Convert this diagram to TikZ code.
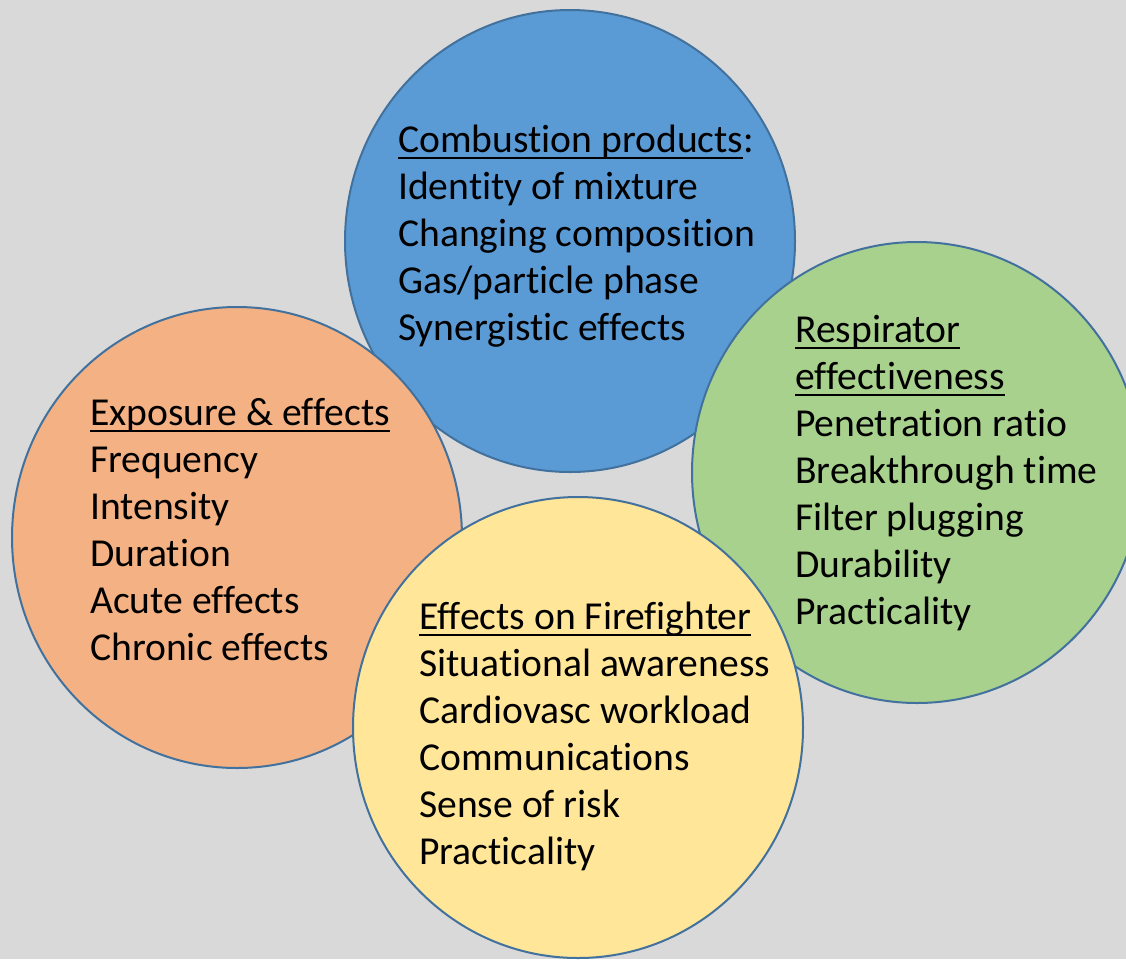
\documentclass[tikz,border=0pt]{standalone}
\usepackage{fontspec}
\setmainfont{Carlito}[RawFeature={-liga;-clig;-dlig}]
\usepackage{array}
\newcommand{\uln}[1]{\setbox0\hbox{#1}\rlap{\rule[-7pt]{\wd0}{2pt}}\box0}
\definecolor{bgc}{HTML}{D9D9D9}
\definecolor{edgec}{HTML}{41719C}
\definecolor{bluec}{HTML}{5B9BD5}
\definecolor{orangec}{HTML}{F4B183}
\definecolor{greenc}{HTML}{A9D18E}
\definecolor{yellowc}{HTML}{FFE699}
\tikzset{
  bubble/.style={draw=edgec, line width=2pt},
  txt/.style={anchor=base west, inner sep=0pt, font=\fontsize{39.6}{47}\selectfont, text=black}
}
\begin{document}
\begin{tikzpicture}[x=1pt,y=-1pt]
\useasboundingbox (0,0) rectangle (1126,959);
\clip (0,0) rectangle (1126,959);
\fill[bgc] (0,0) rectangle (1126,959);
\filldraw[bubble, fill=bluec] (570,241) ellipse [x radius=225, y radius=231];
\filldraw[bubble, fill=orangec] (237,537.5) ellipse [x radius=225, y radius=230.5];
\filldraw[bubble, fill=greenc] (917,472.5) ellipse [x radius=225, y radius=230.5];
\filldraw[bubble, fill=yellowc] (578,727.5) ellipse [x radius=225, y radius=230.5];
\node[txt] (comb) at (398,152) {\begin{tabular}[t]{@{}l@{}}\uln{Combustion products}:\\ Identity of mixture\\ Changing composition\\ Gas/particle phase\\ Synergistic effects\end{tabular}};
\node[txt] (expo) at (90,425) {\begin{tabular}[t]{@{}l@{}}\uln{Exposure \& effects}\\ Frequency\\ Intensity\\ Duration\\ Acute effects\\ Chronic effects\end{tabular}};
\node[txt] (resp) at (795,342) {\begin{tabular}[t]{@{}l@{}}\uln{Respirator}\\ \uln{effectiveness}\\ Penetration ratio\\ Breakthrough time\\ Filter plugging\\ Durability\\ Practicality\end{tabular}};
\node[txt] (fire) at (419,629) {\begin{tabular}[t]{@{}l@{}}\uln{Effects on Firefighter}\\ Situational awareness\\ Cardiovasc workload\\ Communications\\ Sense of risk\\ Practicality\end{tabular}};
\end{tikzpicture}
\end{document}
